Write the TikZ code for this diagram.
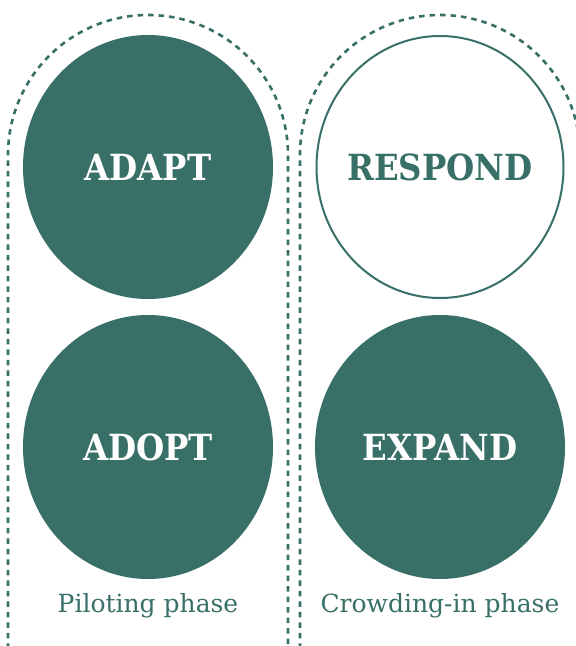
\documentclass[tikz,border=0pt]{standalone}
\usepackage{fontspec}
\setmainfont{DejaVu Serif}
\newfontfamily\bigfont[FakeStretch=0.9]{DejaVu Serif}
\newfontfamily\labfont{DejaVu Serif}
\usetikzlibrary{shapes.geometric}
\definecolor{teal}{RGB}{56,112,104}
\tikzset{
  blob/.style={ellipse, minimum width=250pt, minimum height=264pt, inner sep=0pt, fill=teal, text=white, font=\bigfont\bfseries\fontsize{36}{42}\selectfont},
  ring/.style={ellipse, minimum width=247pt, minimum height=262pt, inner sep=0pt, draw=teal, line width=2pt, fill=white, text=teal, font=\bigfont\bfseries\fontsize{36}{42}\selectfont},
  phasebox/.style={draw=teal, line width=2.6pt, dash pattern=on 5.5pt off 5pt},
  phaselabel/.style={text=teal, font=\labfont\fontsize{25}{30}\selectfont, inner sep=0pt}
}
\begin{document}
\begin{tikzpicture}[x=1pt,y=1pt]
\useasboundingbox (0,0) rectangle (576,646);
\fill[white] (0,0) rectangle (576,646);
\begin{scope}
\clip (0,0) rectangle (576,646);
\draw[phasebox] (8,-3) -- (8,491) arc (180:0:140) -- (288,-3);
\draw[phasebox] (300,-3) -- (300,491) arc (180:0:140) -- (580,-3);
\end{scope}
\node[blob] (adapt) at (148,479) {\makebox[0pt]{ADAPT}};
\node[blob] (adopt) at (148,199) {\makebox[0pt]{ADOPT}};
\node[ring] (respond) at (440,479) {\makebox[0pt]{RESPOND}};
\node[blob] (expand) at (440,199) {\makebox[0pt]{EXPAND}};
\node[phaselabel] (pilot) at (148,40) {Piloting phase};
\node[phaselabel] (crowd) at (440,40) {Crowding-in phase};
\end{tikzpicture}
\end{document}
